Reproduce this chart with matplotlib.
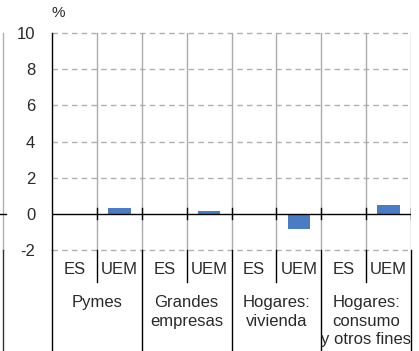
import matplotlib.pyplot as plt
from matplotlib.lines import Line2D

plt.rcParams['font.family'] = ['Liberation Sans', 'DejaVu Sans']

# Data
slots = ["ES", "UEM", "ES", "UEM", "ES", "UEM", "ES", "UEM"]
values = [0.0, 0.35, 0.0, 0.15, 0.0, -0.82, 0.0, 0.5]
groups = ["Pymes", "Grandes\nempresas", "Hogares:\nvivienda", "Hogares:\nconsumo\ny otros fines"]
yticks = [-2, 0, 2, 4, 6, 8, 10]

FS = 12
TXT = '#2a2a2a'

W, H = 419, 351
fig = plt.figure(figsize=(W / 100, H / 100), dpi=100)
ax = fig.add_axes([52 / W, 1 - 250 / H, (411 - 52) / W, (250 - 33) / H])

ax.set_xlim(0, len(slots))
ax.set_ylim(-2, 10)

# gridlines
for t in yticks:
    if t == 0:
        continue
    ax.axhline(t, color='#b0b0b0', lw=1, ls=(0, (4, 3)), zorder=1, clip_on=False)
ax.axhline(0, color='black', lw=1, zorder=3)

# vertical separators in plot area
for i in range(1, len(slots) + 1):
    ax.axvline(i, color='#ababab', lw=1, zorder=1)
    ax.plot([i, i], [-0.3, 0.3], color='black', lw=1, zorder=3)

xs = [i + 0.5 for i in range(len(slots))]
ax.bar(xs, values, width=0.5, color='#4a7cc4', zorder=2)

ax.set_xticks([])
ax.set_yticks(yticks)
ax.set_yticklabels([str(t) for t in yticks], fontsize=FS, color=TXT)
ax.tick_params(axis='y', length=0, pad=12)
for s in ['top', 'right', 'bottom']:
    ax.spines[s].set_visible(False)
ax.spines['left'].set_color('black')
ax.spines['left'].set_linewidth(1)

ax.text(58 / W, 1 - 13 / H, "%", transform=fig.transFigure, fontsize=FS - 1, color=TXT,
        ha='center', va='center')

# category area below the plot
tr = ax.get_xaxis_transform()
bottom = -101 / 217
for i in range(len(slots) + 1):
    if i % 2 == 0:
        ax.add_line(Line2D([i, i], [0, bottom], transform=tr, color='black', lw=1, clip_on=False))
    else:
        ax.add_line(Line2D([i, i], [0, -32 / 217], transform=tr, color='black', lw=1, clip_on=False))

for x, lab in zip(xs, slots):
    ax.text(x, -20 / 217, lab, transform=tr, ha='center', va='center', fontsize=FS, color=TXT)

for g, lab in enumerate(groups):
    ax.text(2 * g + 1, -45 / 217, lab, transform=tr, ha='center', va='top', fontsize=FS,
            color=TXT, linespacing=1.3)

# fragment of neighbouring panel at the left edge
fig.add_artist(Line2D([3 / W, 3 / W], [1 - 33 / H, 1 - 250 / H], color='#b0b0b0', lw=1))
fig.add_artist(Line2D([3 / W, 3 / W], [1 - 250 / H, 0], color='#333333', lw=1))
fig.add_artist(Line2D([0, 6 / W], [1 - 214 / H, 1 - 214 / H], color='black', lw=1))

fig.savefig("out.png", dpi=100)
